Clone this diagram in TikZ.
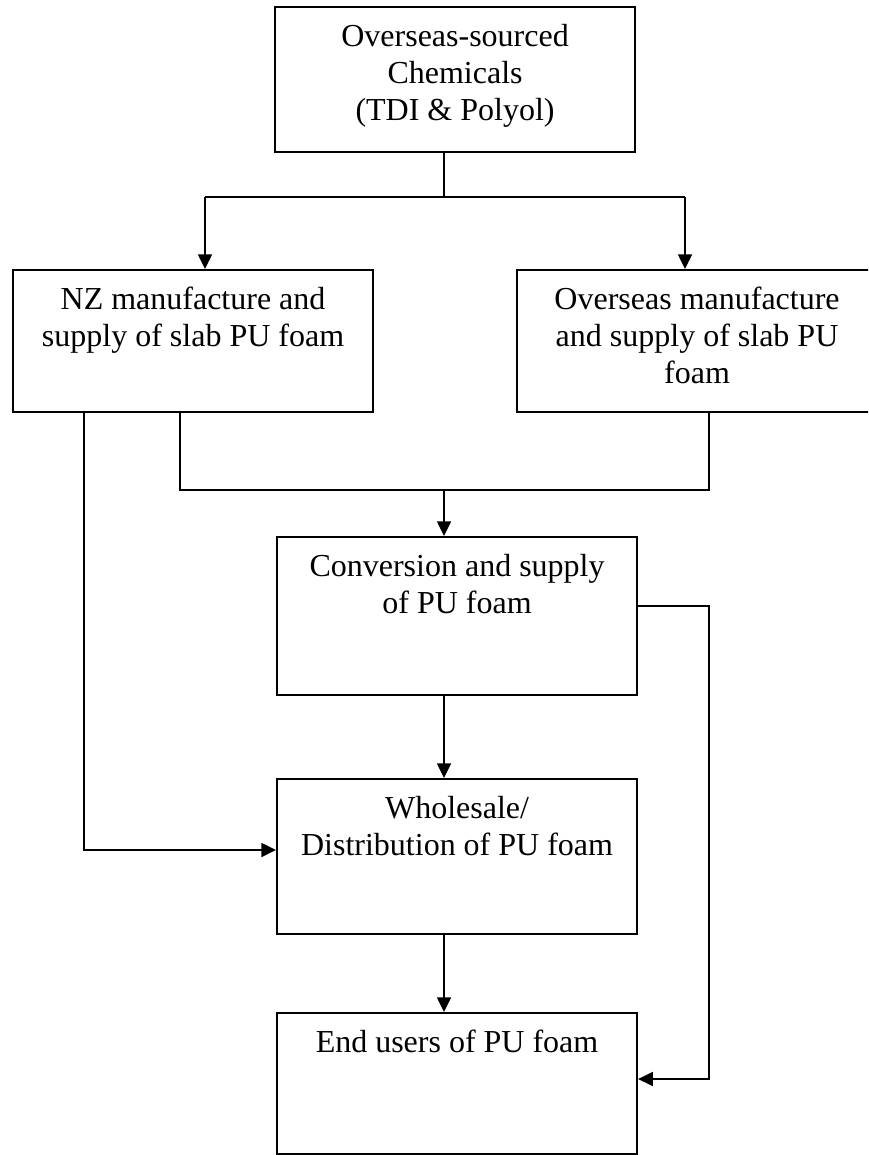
\documentclass[tikz,border=0pt]{standalone}
\usepackage{fontspec}
\setmainfont{Liberation Serif}
\usetikzlibrary{arrows.meta}

\newcommand{\stagetext}[2]{\parbox[t][#1][t]{250pt}{\centering\vspace*{9.8pt}\strut #2}}

\begin{document}
\begin{tikzpicture}[x=0.75pt, y=-0.75pt]
    \tikzstyle{stage}=[draw, line width=1.6pt, anchor=north west, inner sep=0pt, minimum width=270pt, font=\fontsize{24}{27.75}\selectfont]
    \tikzstyle{link}=[line width=1.1pt]
    \tikzstyle{flow}=[line width=1.1pt, -{Triangle[length=11pt,width=10.5pt]}]

    \useasboundingbox (0, 0) rectangle (868, 1155);
    \clip (0, 0) rectangle (868, 1155);

    \node[stage] (src) at (274, 6) {\stagetext{108.75pt}{Overseas-sourced\\ Chemicals\\ (TDI \& Polyol)}};
    \node[stage] (nzslab) at (12, 269) {\stagetext{106.5pt}{NZ manufacture and\\ supply of slab PU foam}};
    \node[stage] (osslab) at (516, 269) {\stagetext{106.5pt}{Overseas manufacture\\ and supply of slab PU\\ foam}};
    \node[stage] (conv) at (276, 536) {\stagetext{118.5pt}{Conversion and supply\\ of PU foam}};
    \node[stage] (whsl) at (276, 778) {\stagetext{116.25pt}{Wholesale/\\ Distribution of PU foam}};
    \node[stage] (endusr) at (276, 1012) {\stagetext{105.75pt}{End users of PU foam}};

    \coordinate (split) at (444, 197);
    \coordinate (nzin) at (205, 197);
    \coordinate (osin) at (685, 197);
    \coordinate (merge) at (444, 490);
    \coordinate (nzout) at (180, 490);
    \coordinate (osout) at (709, 490);
    \coordinate (bypass) at (84, 850);
    \coordinate (direct) at (709, 606);
    \coordinate (drop) at (709, 1079);

    % chemicals split to both slab makers
    \draw[link] (src.south -| split) -- (split);
    \draw[link] (nzin) -- (osin);
    \draw[flow] (nzin) -- (nzin |- nzslab.north);
    \draw[flow] (osin) -- (osin |- osslab.north);

    % slab foam into conversion
    \draw[link] (nzslab.south -| nzout) -- (nzout) -- (osout) -- (osslab.south -| osout);
    \draw[flow] (merge) -- (merge |- conv.north);

    % side routes
    \draw[flow] (nzslab.south -| bypass) -- (bypass) -- (bypass -| whsl.west);
    \draw[flow] (conv.east |- direct) -- (direct) -- (drop) -- (drop -| endusr.east);

    \draw[flow] (conv.south -| merge) -- (whsl.north -| merge);
    \draw[flow] (whsl.south -| merge) -- (endusr.north -| merge);

\end{tikzpicture}
\end{document}
